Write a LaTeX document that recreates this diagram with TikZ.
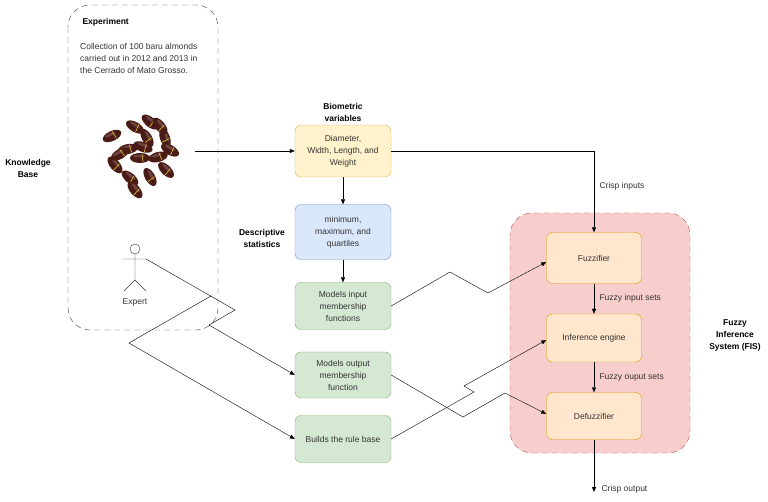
\documentclass[tikz,border=0pt]{standalone}
\usepackage{fontspec}
\setmainfont{Liberation Sans}
\usetikzlibrary{arrows.meta}
\definecolor{yf}{HTML}{FFF2CC}\definecolor{yd}{HTML}{D6B656}
\definecolor{bf}{HTML}{DAE8FC}\definecolor{bd}{HTML}{6C8EBF}
\definecolor{gf}{HTML}{D5E8D4}\definecolor{gd}{HTML}{82B366}
\definecolor{of}{HTML}{FFE6CC}\definecolor{od}{HTML}{D79B00}
\definecolor{rf}{HTML}{F8CECC}\definecolor{rd}{HTML}{B85450}
\definecolor{nut}{HTML}{4A1A14}\definecolor{txt}{HTML}{333333}
\begin{document}
\begin{tikzpicture}[x=1pt,y=-1pt,
 every node/.style={font=\fontsize{8.5}{12}\selectfont,text=txt},
 box/.style={draw,rounded corners=6pt,minimum width=96pt,align=center,inner sep=2pt},
 lbl/.style={font=\bfseries\fontsize{8.5}{12}\selectfont,align=center,text=black},
 arr/.style={-{Triangle[length=5pt,width=4pt]},black},
 cont/.style={dash pattern=on 6pt off 4pt,rounded corners=22pt}]
\useasboundingbox (0,0) rectangle (768,502);
% knowledge base container
\draw[cont,black!75] (68,5) rectangle (218,330);
\node[lbl,anchor=west] (expt) at (79,22) {Experiment};
\node[anchor=north west,align=left,inner sep=0pt] (coll) at (80,43) {Collection of 100 baru almonds\\carried out in 2012 and 2013 in\\the Cerrado of Mato Grosso.};
% almonds
\foreach \x/\y/\r in {112/136/25,135/127/-30,150/122/-40,128/149/10,147/138/-60,165/138/-70,140/158/0,158/157/15,170/150/-30,115/165/-50,130/178/-40,150/177/-60,166/170/-45,120/154/30,143/147/-20,160/126/-50,135/190/-50}{
 \fill[nut,rotate around={\r:(\x,\y)}] (\x,\y) ellipse (10pt and 5pt);
 \fill[white,opacity=0.18,rotate around={\r:(\x,\y)}] (\x-1,\y-2) ellipse (6pt and 1.5pt);
 \draw[yellow!60!brown,line width=0.6pt,rotate around={\r:(\x,\y)}] (\x+2,\y-4) -- (\x+3,\y+4);
}
\node[lbl] (kb) at (28,168) {Knowledge\\Base};
% actor
\draw[black!80] (135,249) circle (5pt);
\draw[black!80] (135,254) -- (135,280) (123,259) -- (146,259) (124,291) -- (135,280) -- (146,291);
\coordinate (arm) at (146,259);
\node (expert) at (135,302) {Expert};
% middle column
\node[lbl] (biov) at (343,112) {Biometric\\variables};
\node[box,fill=yf,draw=yd,minimum height=52pt] (dim) at (343,151) {Diameter,\\Width, Length, and\\Weight};
\node[box,fill=bf,draw=bd,minimum height=55pt] (desc) at (343,232) {minimum,\\maximum, and\\quartiles};
\node[lbl] (dstat) at (262,238) {Descriptive\\statistics};
\node[box,fill=gf,draw=gd,minimum height=47pt] (min) at (343,306) {Models input\\membership\\functions};
\node[box,fill=gf,draw=gd,minimum height=46pt] (mout) at (343,375) {Models output\\membership\\function};
\node[box,fill=gf,draw=gd,minimum height=47pt] (rule) at (343,439) {Builds the rule base};
% FIS
\draw[cont,draw=rd,fill=rf] (510,213) rectangle (690,453);
\node[lbl] (fis) at (735,335) {Fuzzy\\Inference\\System (FIS)};
\node[box,fill=of,draw=od,minimum width=95pt,minimum height=51pt] (fz) at (594,258) {Fuzzifier};
\node[box,fill=of,draw=od,minimum width=95pt,minimum height=48pt] (ie) at (594,338) {Inference engine};
\node[box,fill=of,draw=od,minimum width=95pt,minimum height=47pt] (dz) at (594,416) {Defuzzifier};
\coordinate (outend) at (594,492);
\coordinate (almr) at (195,151);
% connectors
\draw[arr] (almr) -- (dim.west);
\draw[arr] (dim) -- (desc);
\draw[arr] (desc) -- (min);
\draw[arr] (dim.east) -| node[pos=0.72,right,xshift=2pt]{Crisp inputs} (fz.north);
\draw[arr] (fz) -- node[right,xshift=2pt]{Fuzzy input sets} (ie);
\draw[arr] (ie) -- node[right,xshift=2pt]{Fuzzy ouput sets} (dz);
\draw[arr] (dz) -- (outend) node[right,xshift=4pt,pos=0.95]{Crisp output};
\draw[arr] (arm) -- (235,310) -- (209,325) -- (mout.west);
\draw[arr] (211,296) -- (129,343) -- (rule.west);
\draw[arr] (min.east) -- (450,272) -- (488,293) -- (fz.west|-0,262);
\draw[arr] (mout.east) -- (463,417) -- (505,393) -- (dz.west|-0,414);
\draw[arr] (rule.east) -- (474,392) -- (464,386) -- (ie.west|-0,340);
\end{tikzpicture}
\end{document}
